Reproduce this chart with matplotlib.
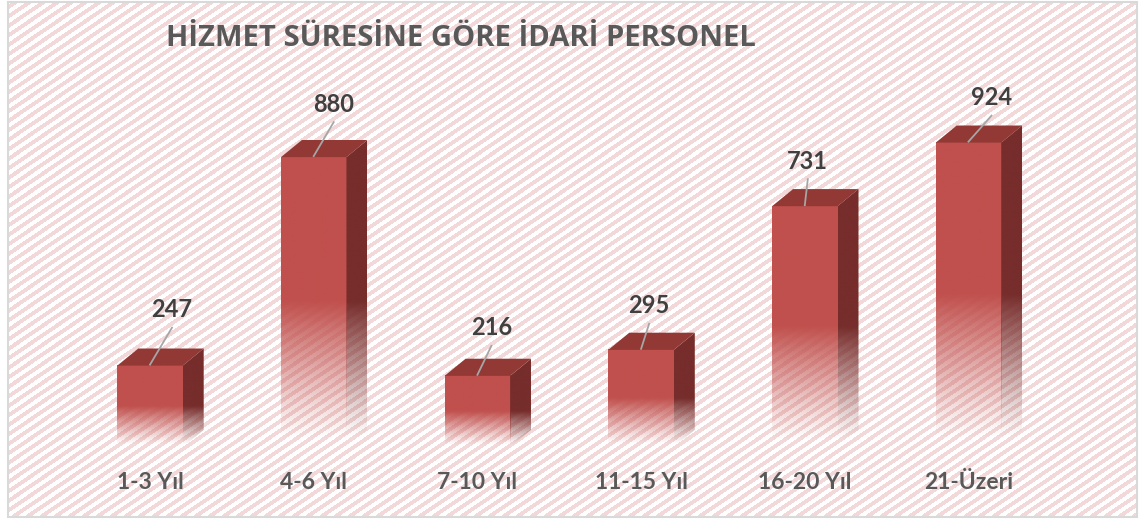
import numpy as np
import matplotlib
matplotlib.use("Agg")
import matplotlib.pyplot as plt
from matplotlib.patches import Polygon, Rectangle
from matplotlib.transforms import blended_transform_factory, IdentityTransform

# ---- data ----
categories = ["1-3 Yıl", "4-6 Yıl", "7-10 Yıl", "11-15 Yıl", "16-20 Yıl", "21-Üzeri"]
values = [247, 880, 216, 295, 731, 924]
title = "HİZMET SÜRESİNE GÖRE İDARİ PERSONEL"

# ---- layout / style ----
W, H, DPI = 1140, 519, 100
label_off = [(22, 57), (20, 54), (14, 49), (8, 45), (3, 46), (23, 46)]  # px, label centre vs front-top centre
FRONT = np.array([192, 80, 77]) / 255
TOP = np.array([146, 57, 54]) / 255
SIDE = np.array([118, 45, 43]) / 255
PINK = np.array([242, 216, 216]) / 255
BAR_W = 0.4
DX = 0.128      # depth in category units
DY = 52         # depth in value units
FONT = "Lato"

fig = plt.figure(figsize=(W / DPI, H / DPI), dpi=DPI)

# background stripes
bg = fig.add_axes([0, 0, 1, 1])
rr, cc = np.mgrid[0:H, 0:W]
phase = np.mod(cc / 14.0 + rr / 9.5, 1.0)
img = np.ones((H, W, 3))
mask = phase < 0.5
img[mask] = PINK
outside = (cc < 8) | (cc > 1136) | (rr < 2) | (rr > 516)
img[outside] = 1.0
bg.imshow(img, extent=[0, W, H, 0], interpolation="nearest", aspect="auto")
bg.set_xlim(0, W)
bg.set_ylim(H, 0)
bg.axis("off")
bg.add_patch(Rectangle((7.5, 1.5), 1129.5, 515.5, fill=False, edgecolor="#d9d9d9", lw=1.5))

# main axes
x0_px, step_px = 150.0, 163.7
left = (x0_px - step_px / 2) / W
width = step_px * 6 / W
base_px = 447.0
scale = 0.3294
ymax = 1000
ax = fig.add_axes([left, (H - base_px) / H, width, ymax * scale / H])
ax.patch.set_alpha(0)


def alpha_of(f):
    f = np.clip(f, 0, 1)
    return np.where(f <= 0.5, 1.0, np.clip(1 - (f - 0.5) / 0.47, 0, 1) ** 1.1)


N = 256
for i, v in enumerate(values):
    x0 = i - BAR_W / 2
    x1 = i + BAR_W / 2
    f = np.linspace(0, 1, N)
    grad = np.zeros((N, 1, 4))
    grad[:, 0, :3] = FRONT
    grad[:, 0, 3] = alpha_of(f)
    ax.imshow(grad, extent=[x0, x1, 0, v], aspect="auto", interpolation="bilinear", zorder=2)
    ys = np.linspace(v + DY, 0, N)
    fs = (v - ys) / v
    gs = np.zeros((N, 1, 4))
    gs[:, 0, :3] = SIDE
    gs[:, 0, 3] = alpha_of(fs)
    im = ax.imshow(gs, extent=[x1, x1 + DX, 0, v + DY], aspect="auto", interpolation="bilinear", zorder=2)
    side_poly = Polygon([(x1, 0), (x1, v), (x1 + DX, v + DY), (x1 + DX, DY)], closed=True,
                        facecolor="none", edgecolor="none", transform=ax.transData)
    ax.add_patch(side_poly)
    im.set_clip_path(side_poly)
    ax.add_patch(Polygon([(x0, v), (x1, v), (x1 + DX, v + DY), (x0 + DX, v + DY)], closed=True,
                         facecolor=TOP, edgecolor="none", zorder=3))

ax.set_xlim(-0.5, 5.5)
ax.set_ylim(0, ymax)
ax.axis("off")

fig.canvas.draw()
for i, v in enumerate(values):
    px, py = ax.transData.transform((i, v))
    dx, dy = label_off[i]
    lx, ly = px + dx, py + dy
    fig.add_artist(plt.Line2D([lx, px], [ly - 19, py + 1], color="#a6a6a6", lw=1.3,
                              transform=IdentityTransform()))
    fig.text(lx / W, (ly - 8.6) / H, str(v), ha="center", va="baseline", fontsize=17,
             fontweight="bold", color="#404040", family=FONT)

tr = blended_transform_factory(ax.transData, fig.transFigure)
for i, c in enumerate(categories):
    ax.text(i, (H - 489) / H, c, transform=tr, ha="center", va="baseline", fontsize=16.5,
            fontweight="bold", color="#595959", family=FONT)

fig.text(166 / W, (H - 46) / H, title, ha="left", va="baseline", fontsize=21,
         fontweight="bold", color="#595959", family="Open Sans")

fig.savefig("out.png", dpi=DPI)
